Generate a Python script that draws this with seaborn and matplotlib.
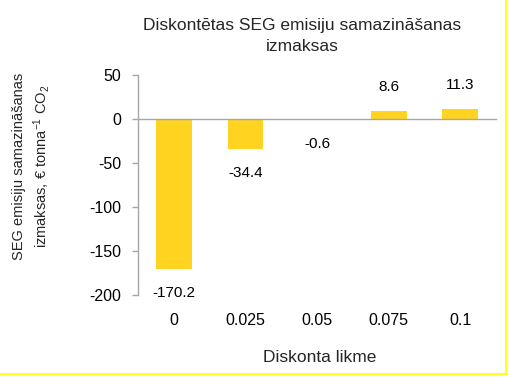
import matplotlib
matplotlib.use("Agg")
import matplotlib.pyplot as plt
from matplotlib.lines import Line2D
import seaborn as sns
import pandas as pd

# Discount rates and the corresponding discounted GHG abatement costs
rates = ["0", "0.025", "0.05", "0.075", "0.1"]
costs = [-170.2, -34.4, -0.6, 8.6, 11.3]
yticks = [50, 0, -50, -100, -150, -200]

title = "Diskontētas SEG emisiju samazināšanas\nizmaksas"
xlabel = "Diskonta likme"
ylabel = "SEG emisiju samazināšanas\nizmaksas, € tonna$^{-1}$ CO$_2$"

sns.set_theme(style="white")
plt.rcParams["font.family"] = ["Liberation Sans", "DejaVu Sans"]
plt.rcParams["mathtext.fontset"] = "custom"
plt.rcParams["mathtext.rm"] = "Liberation Sans"
plt.rcParams["mathtext.it"] = "Liberation Sans"
plt.rcParams["mathtext.bf"] = "Liberation Sans"

df = pd.DataFrame({"rate": rates, "cost": costs})

W, H = 509, 377
fig = plt.figure(figsize=(W / 100, H / 100), dpi=100)
fig.patch.set_facecolor("white")
ax = fig.add_axes([138 / W, 1 - 295 / H, (496 - 138) / W, (295 - 75) / H])

bar_color = "#FFD320"
axis_gray = "#A6A6A6"

sns.barplot(data=df, x="rate", y="cost", color=bar_color, saturation=1,
            width=0.5, ax=ax, edgecolor="none")

ax.set_xlim(-0.5, len(rates) - 0.5)
ax.set_ylim(min(yticks), max(yticks))
ax.set_yticks(yticks)
ax.set_yticklabels([str(v) for v in yticks])
ax.set_xlabel("")
ax.set_ylabel("")

# Horizontal axis crosses at zero, with category boundary ticks pointing up
for side in ["top", "right"]:
    ax.spines[side].set_visible(False)
ax.spines["bottom"].set_position(("data", 0))
ax.spines["bottom"].set_color(axis_gray)
ax.spines["bottom"].set_linewidth(1.0)
ax.spines["left"].set_color(axis_gray)
ax.spines["left"].set_linewidth(1.0)

ax.set_xticks([i + 0.5 for i in range(-1, len(rates))], minor=True)
ax.tick_params(axis="x", which="major", length=0, labelbottom=False)
ax.tick_params(axis="x", which="minor", direction="in", length=4,
               color=axis_gray, width=1.0)
ax.tick_params(axis="y", direction="out", length=4, color=axis_gray,
               width=1.0, pad=8, labelsize=11.5, labelcolor="black", left=True)

# Category labels along the bottom of the plot area
for i, r in enumerate(rates):
    ax.annotate(r, xy=(i, 0), xycoords=ax.get_xaxis_transform(),
                xytext=(0, -18.5), textcoords="offset points",
                ha="center", va="center", fontsize=11.5, color="black")

# Value labels beyond the end of each bar
for i, v in enumerate(costs):
    off = 17.3 if v > 0 else -17.3
    ax.annotate(f"{v:.1f}", xy=(i, v), xytext=(0, off),
                textcoords="offset points", ha="center", va="center",
                fontsize=11, color="black")

fig.text(302 / W, 1 - 36 / H, title, ha="center", va="center",
         fontsize=12.5, linespacing=1.45)
fig.text(320 / W, 1 - 357 / H, xlabel, ha="center", va="center",
         fontsize=12.5)
fig.text(32 / W, 1 - 166 / H, ylabel, ha="center", va="center",
         rotation=90, fontsize=10.5, linespacing=1.3, multialignment="center")

# Yellow frame on the right and bottom edges
frame = "#FFFF00"
fig.add_artist(Line2D([506 / W, 506 / W], [1 - 374 / H, 1.0],
                      transform=fig.transFigure, color=frame, linewidth=1.3))
fig.add_artist(Line2D([0.0, 506 / W], [1 - 374 / H, 1 - 374 / H],
                      transform=fig.transFigure, color=frame, linewidth=1.3))

fig.savefig("out.png", dpi=100, facecolor="white")
